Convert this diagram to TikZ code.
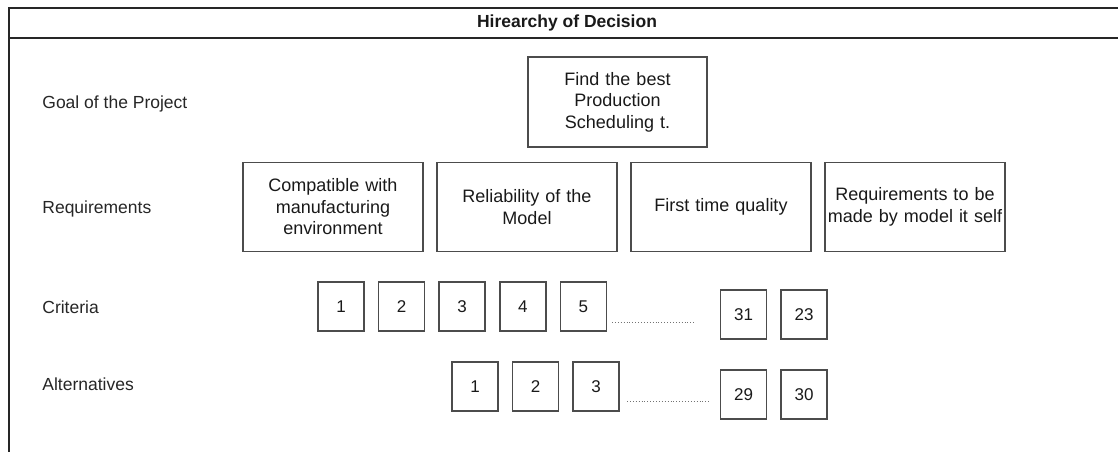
\documentclass[tikz,border=0pt]{standalone}
\usepackage{fontspec}
\setmainfont{Liberation Sans}
\usetikzlibrary{positioning}

\begin{document}
\begin{tikzpicture}[x=1pt, y=-1pt, node distance=13pt, thick,
    frame line/.style={draw=black!85, line width=1.8pt},
    level label/.style={anchor=west, inner sep=0pt, text=black!85, font=\fontsize{17.5}{21}\selectfont},
    big box/.style={rectangle, draw=black!70, line width=1.6pt, minimum width=180pt, minimum height=89pt, align=center, text width=176pt, inner sep=0pt, text=black!90, font=\fontsize{18}{21.5}\selectfont},
    num box/.style={rectangle, draw=black!70, line width=1.6pt, minimum width=46pt, minimum height=49pt, inner sep=0pt, text=black!90, font=\fontsize{17}{20}\selectfont},
    dots line/.style={draw=black!55, line width=0.9pt, dotted}]

      \useasboundingbox (0,0) rectangle (1118,452);

      % frame and title
      \coordinate (fbl) at (9,452);
      \coordinate (ftl) at (9,8);
      \coordinate (ftr) at (1118,8);
      \coordinate (fhl) at (9,38);
      \coordinate (fhr) at (1118,38);
      \draw[frame line] (fbl) -- (ftl) -- (ftr);
      \draw[frame line] (fhl) -- (fhr);
      \node[font=\bfseries\fontsize{17.5}{20}\selectfont, text=black!90] (title) at (567,23) {Hirearchy of Decision};

      % level names
      \node[level label] (goal) at (42,104) {Goal of the Project};
      \node[level label] (req) at (42,209) {Requirements};
      \node[level label] (crit) at (42,307) {Criteria};
      \node[level label] (alt) at (42,384) {Alternatives};

      % goal
      \node[big box, minimum width=179pt, minimum height=90pt] (g) at (617.5,102) {Find the best\\Production\\Scheduling t.};

      % requirements
      \node[big box] (r1) at (333,207) {Compatible with\\manufacturing\\environment};
      \node[big box] (r2) at (527,207) {Reliability of the\\Model};
      \node[big box] (r3) at (721,207) {First time quality};
      \node[big box] (r4) at (915,207) {Requirements to be\\made by model it self};

      % criteria
      \node[num box] (c1) at (341,306.5) {1};
      \node[num box] (c2) [right=of c1] {2};
      \node[num box] (c3) [right=of c2] {3};
      \node[num box] (c4) [right=of c3] {4};
      \node[num box] (c5) [right=of c4] {5};
      \node[num box] (c31) at (743.5,314.5) {31};
      \node[num box] (c23) [right=of c31] {23};
      \coordinate (cd1) at (612,322);
      \coordinate (cd2) at (696,322);
      \draw[dots line] (cd1) -- (cd2);

      % alternatives
      \node[num box] (a1) at (475,386.5) {1};
      \node[num box] (a2) [right=of a1] {2};
      \node[num box] (a3) [right=of a2] {3};
      \node[num box] (a29) at (743.5,394.5) {29};
      \node[num box] (a30) [right=of a29] {30};
      \coordinate (ad1) at (627,401);
      \coordinate (ad2) at (711,401);
      \draw[dots line] (ad1) -- (ad2);

\end{tikzpicture}
\end{document}
